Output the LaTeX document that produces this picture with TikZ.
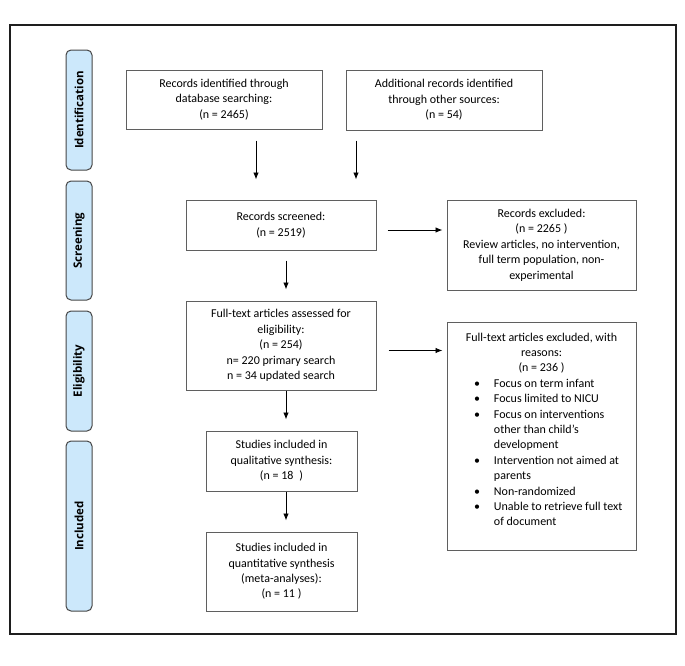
\documentclass[tikz,border=0pt]{standalone}
\usepackage{fontspec}
\setmainfont{Carlito}
\newfontfamily\tabfont{Open Sans}
\usetikzlibrary{arrows.meta}
\definecolor{tabblue}{RGB}{204,232,251}
\definecolor{tabedge}{RGB}{70,70,70}
\definecolor{boxedge}{RGB}{95,95,95}
\definecolor{framecol}{RGB}{30,30,30}
\begin{document}
\begin{tikzpicture}[x=1pt,y=-1pt,
  box/.style={draw=boxedge, line width=1pt, align=center, inner sep=0pt,
    font=\fontsize{12}{15.4}\selectfont},
  listbox/.style={draw=boxedge, line width=1pt, inner sep=0pt,
    font=\fontsize{12}{15.4}\selectfont},
  tab/.style={draw=tabedge, fill=tabblue, line width=1pt, rounded corners=5pt,
    rotate=90, minimum height=26pt, inner sep=0pt,
    font=\tabfont\fontsize{11.5}{14}\selectfont\bfseries},
  arr/.style={-{Latex[length=7pt,width=5.5pt]}, line width=0.9pt}]
\useasboundingbox (0,0) rectangle (685,665);
% outer frame
\draw[line width=2pt, framecol] (10,25) rectangle (676,634);
% phase tabs
\node[tab, minimum width=120pt] (tid) at (79,110) {Identification};
\node[tab, minimum width=119pt] (tsc) at (79,240.5) {Screening};
\node[tab, minimum width=120pt] (tel) at (79,371) {Eligibility};
\node[tab, minimum width=170pt] (tin) at (79,526) {Included};
% boxes
\node[box, minimum width=196pt, minimum height=59pt] (db) at (224,99.5)
  {Records identified through\\ database searching:\\ (n = 2465)};
\node[box, minimum width=196pt, minimum height=60pt] (other) at (444,100)
  {Additional records identified\\ through other sources:\\ (n = 54)};
\node[box, minimum width=190pt, minimum height=50pt] (screen) at (281,225)
  {Records screened:\\ (n = 2519)};
\node[box, minimum width=189pt, minimum height=90pt] (excl) at (541.5,245)
  {Records excluded:\\ (n = 2265 )\\ Review articles, no intervention,\\ full term population, non-\\ experimental};
\node[box, minimum width=190pt, minimum height=89pt] (full) at (281,345.5)
  {Full-text articles assessed for\\ eligibility:\\ (n = 254)\\ n= 220 primary search\\ n = 34 updated search};
\node[listbox, minimum width=189pt, minimum height=228pt] (ftex) at (541.5,436)
  {\parbox[c][228pt][t]{189pt}{\centering\rule{0pt}{19pt}Full-text articles excluded, with\\ reasons:\\ (n = 236 )\par
   \raggedright
   \begin{tabular}[t]{@{\hspace{27pt}}l@{\hspace{14pt}}l@{}}
   \textbullet & Focus on term infant\\
   \textbullet & Focus limited to NICU\\
   \textbullet & Focus on interventions\\
               & other than child’s\\
               & development\\
   \textbullet & Intervention not aimed at\\
               & parents\\
   \textbullet & Non-randomized\\
   \textbullet & Unable to retrieve full text\\
               & of document
   \end{tabular}}};
\node[box, minimum width=151pt, minimum height=60pt] (qual) at (281.5,461)
  {Studies included in\\ qualitative synthesis:\\ (n = 18\hspace{6pt})};
\node[box, minimum width=151pt, minimum height=79pt] (quant) at (281.5,571.5)
  {Studies included in\\ quantitative synthesis\\ (meta-analyses):\\ (n = 11 )};
% connectors
\draw[arr, shorten <=11pt, shorten >=20pt] ([xshift=32pt]db.south) -- ([xshift=32pt]db.south |- screen.north);
\draw[arr, shorten <=10pt, shorten >=20pt] ([xshift=-88pt]other.south) -- ([xshift=-88pt]other.south |- screen.north);
\draw[arr, shorten <=11pt, shorten >=4pt] ([yshift=-5pt]screen.east) -- ([yshift=-5pt]screen.east -| excl.west);
\draw[arr, shorten <=10pt, shorten >=11pt] ([xshift=5pt]screen.south) -- ([xshift=5pt]screen.south |- full.north);
\draw[arr, shorten <=12pt, shorten >=4pt] ([yshift=-5pt]full.east) -- ([yshift=-5pt]full.east -| ftex.west);
\draw[arr, shorten >=11pt] ([xshift=5pt]full.south) -- ([xshift=5pt]full.south |- qual.north);
\draw[arr, shorten >=11pt] ([xshift=4.5pt]qual.south) -- ([xshift=4.5pt]qual.south |- quant.north);
\end{tikzpicture}
\end{document}
